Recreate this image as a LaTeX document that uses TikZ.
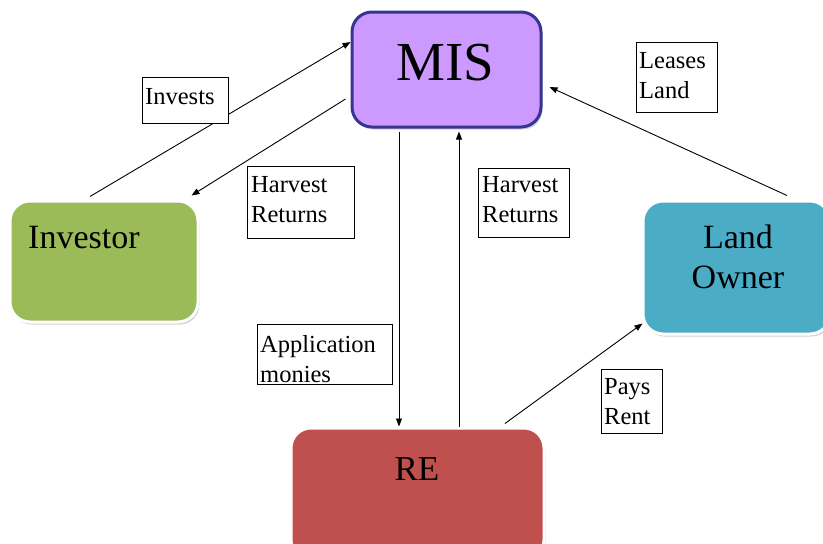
\documentclass[tikz,border=0pt]{standalone}
\usepackage{fontspec}
\setmainfont{Liberation Serif}
\usetikzlibrary{arrows.meta,shadows}

\definecolor{misfill}{HTML}{CC99FF}
\definecolor{misline}{HTML}{353593}
\definecolor{invfill}{HTML}{9BBB59}
\definecolor{landfill}{HTML}{4BACC6}
\definecolor{refill}{HTML}{C0504D}

\tikzset{
  boxshadow/.style={drop shadow={shadow xshift=1.5pt,shadow yshift=-2.5pt,fill=black!40,opacity=0.45}},
  party/.style={rectangle,rounded corners=20pt,draw=white,line width=3pt,boxshadow,inner sep=0pt},
  hub/.style={rectangle,rounded corners=20pt,draw=misline,line width=3pt,fill=misfill,boxshadow,inner sep=0pt},
  lbox/.style={rectangle,draw=black,line width=0.8pt,fill=white,inner sep=0pt,anchor=north west},
  ltext/.style={anchor=north west,inner sep=0pt,align=left,font=\fontsize{24.5}{30}\selectfont},
  bigtext/.style={inner sep=0pt,font=\fontsize{34}{40}\selectfont,align=center},
  flow/.style={line width=0.9pt,-{Triangle[length=8pt,width=6pt]}}
}

\begin{document}
\begin{tikzpicture}[x=1pt,y=-1pt]
\useasboundingbox (0,0) rectangle (823,544);

% main boxes
\node[hub,minimum width=189pt,minimum height=115pt] (mis) at (446.5,69.5) {};
\node[anchor=base,inner sep=0pt,font=\fontsize{55}{60}\selectfont] (mistext) at (445.5,80) {MIS};

\node[party,fill=invfill,minimum width=188pt,minimum height=121pt] (inv) at (104,261.5) {};
\node[bigtext,anchor=base west] (invtext) at (28,248) {Investor};

\node[party,fill=landfill,minimum width=187pt,minimum height=133pt] (land) at (736.5,267.5) {};
\node[bigtext,anchor=base] (landtext1) at (738,248) {Land};
\node[bigtext,anchor=base] (landtext2) at (738,288) {Owner};

\node[party,fill=refill,minimum width=253pt,minimum height=132pt] (re) at (417.5,494) {};
\node[bigtext,anchor=base,font=\fontsize{35}{40}\selectfont] (retext) at (417,480) {RE};

% connectors
\draw[flow] ([xshift=-14pt,yshift=3pt]inv.north) -- ([yshift=27.5pt]mis.west);
\draw[flow] ([xshift=-5pt,yshift=-29.5pt]mis.west) -- ([xshift=-8pt,yshift=4pt]inv.north east);
\draw[flow] ([xshift=-47.5pt,yshift=-3pt]mis.south) -- ([xshift=-18.5pt]re.north);
\draw[flow] ([xshift=41.5pt]re.north) -- ([xshift=12.5pt,yshift=-3pt]mis.south);
\draw[flow] ([xshift=50.5pt,yshift=4pt]land.north) -- ([xshift=7pt,yshift=-17.5pt]mis.east);
\draw[flow] ([xshift=87.5pt,yshift=3pt]re.north) -- ([xshift=1pt,yshift=12pt]land.south west);

% flow labels
\node[lbox,minimum width=86pt,minimum height=46pt] (l1) at (142,77) {};
\node[ltext] at ([xshift=3pt,yshift=-11pt]l1.north west) {Invests};

\node[lbox,minimum width=107pt,minimum height=72pt] (l2) at (247,166) {};
\node[ltext] at ([xshift=4pt,yshift=-10pt]l2.north west) {Harvest\\Returns};

\node[lbox,minimum width=91pt,minimum height=69pt] (l3) at (478,168) {};
\node[ltext] at ([xshift=4pt,yshift=-8pt]l3.north west) {Harvest\\Returns};

\node[lbox,minimum width=81pt,minimum height=70pt] (l4) at (636,42) {};
\node[ltext] at ([xshift=3pt,yshift=-10pt]l4.north west) {Leases\\Land};

\node[lbox,minimum width=135pt,minimum height=60pt] (l5) at (257,324) {};
\node[ltext] at ([xshift=3pt,yshift=-11pt]l5.north west) {Application\\monies};

\node[lbox,minimum width=61pt,minimum height=64pt] (l6) at (601,369) {};
\node[ltext] at ([xshift=3pt,yshift=-9pt]l6.north west) {Pays\\Rent};
\end{tikzpicture}
\end{document}
